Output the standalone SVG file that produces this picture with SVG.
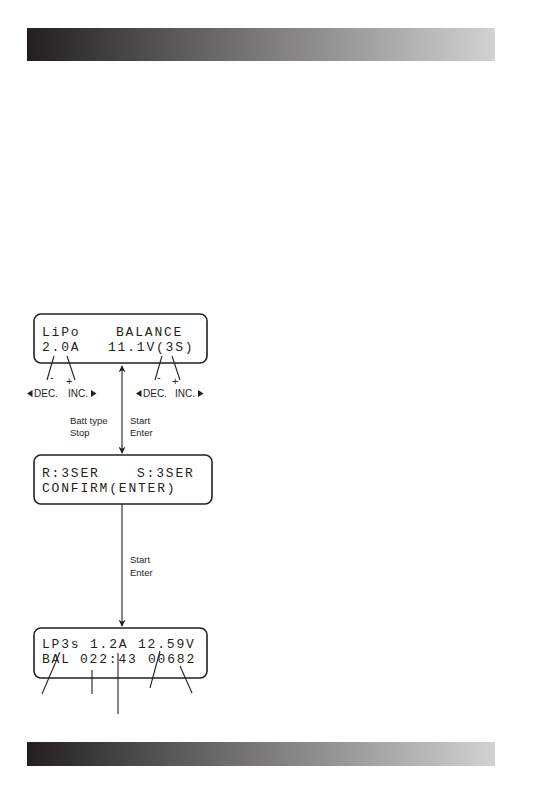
<svg xmlns="http://www.w3.org/2000/svg" width="545" height="795" viewBox="0 0 545 795">
<defs>
<linearGradient id="bar" x1="0" y1="0" x2="1" y2="0">
<stop offset="0" stop-color="#231f20"/>
<stop offset="1" stop-color="#d2d2d2"/>
</linearGradient>
<marker id="ah" viewBox="0 0 10 10" refX="9" refY="5" markerWidth="8" markerHeight="7" markerUnits="userSpaceOnUse" orient="auto-start-reverse">
<path d="M0,0 L10,5 L0,10 L3,5 z" fill="#231f20"/>
</marker>
</defs>
<style>
.box{fill:#fff;stroke:#231f20;stroke-width:1.6}
.lcd{font-family:"Liberation Mono","DejaVu Sans Mono",monospace;font-size:13px;letter-spacing:1.8px;fill:#231f20}
.lbl{font-family:"Liberation Sans",Arial,sans-serif;font-size:9.5px;fill:#231f20}
.dec{font-family:"Liberation Sans",Arial,sans-serif;font-size:10px;fill:#231f20}
.pm{font-family:"Liberation Sans",Arial,sans-serif;font-size:11px;fill:#231f20}
.ln{stroke:#231f20;stroke-width:1.1;fill:none}
.tri{fill:#231f20}
</style>
<rect x="27" y="28" width="468" height="33" fill="url(#bar)"/>
<rect x="27" y="742" width="468" height="24" fill="url(#bar)"/>

<g id="screen1">
<rect class="box" x="34" y="314" width="173" height="49" rx="7"/>
<text class="lcd" x="42" y="336">LiPo</text>
<text class="lcd" x="116" y="336">BALANCE</text>
<text class="lcd" x="42" y="351">2.0A</text>
<text class="lcd" x="108" y="351">11.1V(3S)</text>
</g>

<g id="adjust-left">
<text class="pm" x="50" y="381">-</text>
<text class="pm" x="66" y="385">+</text>
<path class="tri" d="M27,393.5 l5.5,-3.5 v7 z"/>
<text class="dec" x="34" y="397">DEC.</text>
<text class="dec" x="68" y="397">INC.</text>
<path class="tri" d="M91,390 l5.5,3.5 -5.5,3.5 z"/>
</g>
<g id="adjust-right">
<text class="pm" x="157" y="381">-</text>
<text class="pm" x="172" y="385">+</text>
<path class="tri" d="M136,393.5 l5.5,-3.5 v7 z"/>
<text class="dec" x="143" y="397">DEC.</text>
<text class="dec" x="175" y="397">INC.</text>
<path class="tri" d="M198,390 l5.5,3.5 -5.5,3.5 z"/>
</g>

<g id="screen2">
<rect class="box" x="34" y="455" width="178" height="49" rx="7"/>
<text class="lcd" x="42" y="477">R:3SER</text>
<text class="lcd" x="137" y="477">S:3SER</text>
<text class="lcd" x="42" y="492">CONFIRM(ENTER)</text>
</g>

<g id="screen3">
<rect class="box" x="34" y="628" width="173" height="50" rx="7"/>
<text class="lcd" x="42" y="648">LP3s</text>
<text class="lcd" x="90" y="648">1.2A</text>
<text class="lcd" x="138" y="648">12.59V</text>
<text class="lcd" x="42" y="663">BAL</text>
<text class="lcd" x="80" y="663">022:43</text>
<text class="lcd" x="148" y="663">00682</text>
</g>

<g id="labels">
<text class="lbl" x="70" y="424">Batt type</text>
<text class="lbl" x="70" y="436">Stop</text>
<text class="lbl" x="130" y="424">Start</text>
<text class="lbl" x="130" y="436">Enter</text>
<text class="lbl" x="130" y="563">Start</text>
<text class="lbl" x="130" y="576">Enter</text>
</g>

<g id="connectors">
<line class="ln" x1="122" y1="366" x2="122" y2="453" stroke-width="1.6" marker-start="url(#ah)" marker-end="url(#ah)"/>
<line class="ln" x1="122" y1="504" x2="122" y2="626" stroke-width="1.6" marker-end="url(#ah)"/>
<line class="ln" x1="54" y1="356" x2="47" y2="380"/>
<line class="ln" x1="67" y1="356" x2="75" y2="380"/>
<line class="ln" x1="162" y1="356" x2="155" y2="380"/>
<line class="ln" x1="172" y1="356" x2="180" y2="380"/>
<line class="ln" x1="60" y1="652" x2="42" y2="694"/>
<line class="ln" x1="92" y1="670" x2="92" y2="694"/>
<line class="ln" x1="118" y1="653" x2="118" y2="714"/>
<line class="ln" x1="160" y1="651" x2="150" y2="688"/>
<line class="ln" x1="180" y1="666" x2="192" y2="693"/>
</g>
</svg>
